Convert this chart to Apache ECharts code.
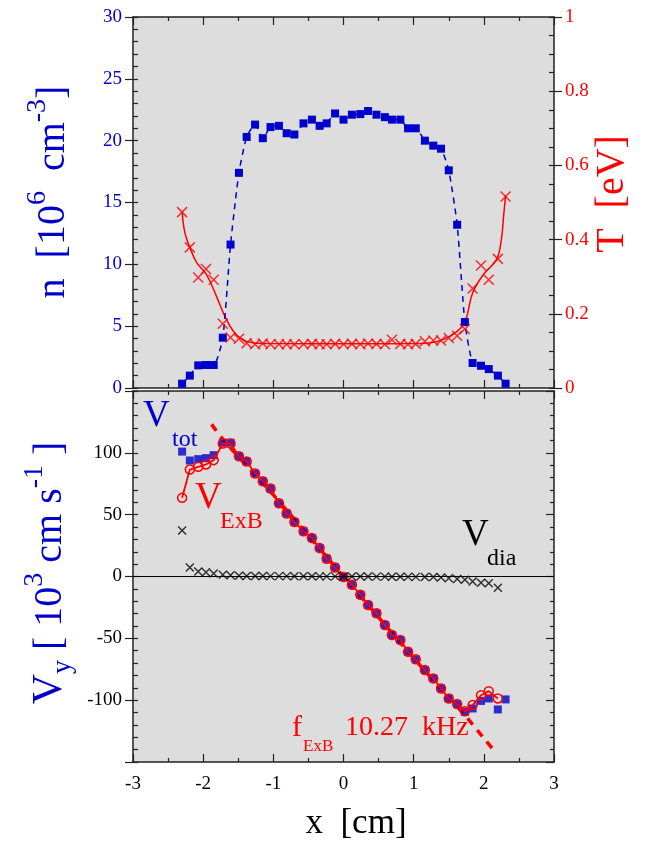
<!DOCTYPE html>
<html>
<head>
<meta charset="utf-8">
<script src="https://cdn.jsdelivr.net/npm/echarts@6/dist/echarts.min.js"></script>
<style>
html, body { margin: 0; padding: 0; background: #fff; }
#chart { width: 649px; height: 849px; }
</style>
</head>
<body>
<div id="chart"></div>
<script>
// probe positions [cm]
var xPos = [-2.30, -2.19, -2.07, -1.96, -1.85, -1.72, -1.61, -1.49, -1.38, -1.26, -1.15, -1.04, -0.92, -0.81,
    -0.70, -0.57, -0.45, -0.34, -0.24, -0.12, 0.00, 0.12, 0.24, 0.35, 0.47, 0.59, 0.69, 0.81, 0.92, 1.03,
    1.16, 1.28, 1.39, 1.50, 1.62, 1.73, 1.84, 1.96, 2.07, 2.20, 2.31];

// density n [10^6 cm^-3]
var nVals = [0.35, 1.0, 1.83, 1.86, 1.86, 4.07, 11.6, 17.4, 20.3, 21.3, 20.2, 21.1, 21.2, 20.6,
    20.5, 21.4, 21.7, 21.2, 21.4, 22.2, 21.7, 22.1, 22.15, 22.4, 22.1, 21.9, 21.7, 21.7, 21.0, 21.0,
    20.0, 19.6, 19.35, 17.6, 13.2, 5.33, 2.02, 1.8, 1.53, 1.0, 0.35];

// temperature T [eV]
var tVals = [0.474, 0.379, 0.298, 0.321, 0.292, 0.173, 0.136, 0.133, 0.121, 0.118, 0.12, 0.118, 0.118, 0.118,
    0.118, 0.118, 0.119, 0.118, 0.118, 0.119, 0.118, 0.119, 0.118, 0.12, 0.119, 0.118, 0.13, 0.119, 0.118, 0.119,
    0.126, 0.128, 0.128, 0.135, 0.141, 0.159, 0.268, 0.33, 0.292, 0.348, 0.516];

// T fit curve
var tFitX = [-2.30, -2.26, -2.19, -2.09, -1.95, -1.81, -1.69, -1.57, -1.45, -1.30, -1.10, 0.00, 1.10, 1.30,
    1.45, 1.60, 1.73, 1.84, 1.99, 2.18, 2.25, 2.28, 2.31];
var tFitY = [0.474, 0.418, 0.379, 0.337, 0.305, 0.247, 0.193, 0.153, 0.132, 0.122, 0.12, 0.119, 0.12, 0.124,
    0.133, 0.15, 0.178, 0.256, 0.305, 0.346, 0.40, 0.46, 0.52];

// V_tot [10^3 cm/s]
var vTot = [101, 93.8, 94.9, 95.7, 98.1, 108.2, 108.2, 97.3, 93, 83.3, 77, 71.1, 59.2, 50.9,
    44.1, 36.5, 31.1, 23, 14.4, 7.3, -0.5, -6.7, -14.8, -23, -29.7, -39.2, -47.3, -51.3, -60.8, -67,
    -75.7, -82.4, -90.5, -98.6, -103.2, -109.5, -106.7, -100.6, -98.6, -107.5, -99.4];

// V_ExB (last probe has none)
var vExB = [63.6, 86.5, 88.7, 90.6, 94.1, 107.5, 107.5, 97.3, 93, 83.3, 77, 71.1, 59.2, 50.9,
    44.1, 36.5, 31.1, 23, 14.4, 7.3, -0.5, -6.7, -14.8, -23, -29.7, -39.2, -47.3, -51.3, -60.8, -67,
    -75.7, -82.4, -90.5, -98.6, -103.2, -109, -104, -96, -92.7, -98.6];

// V_dia
var vDia = [37.1, 7.3, 4.1, 3.5, 2.5, 1.5, 1.0, 0.6, 0.5, 0.4, 0.4, 0.3, 0.3, 0.3,
    0.2, 0.2, 0.2, 0.1, 0.1, 0.1, 0, 0, 0, 0, -0.1, -0.1, -0.2, -0.2, -0.3, -0.3,
    -0.4, -0.5, -0.8, -1.5, -2.0, -2.7, -4.0, -5.0, -5.5, -9.0];

// f_ExB rigid rotation fit
var fitX = [-1.88, -1.72, -1.50, -1.00, -0.50, 0.00, 0.50, 1.00, 1.50, 1.73, 1.83, 1.99, 2.12];
var fitV = [123, 111, 97, 66, 33, 0, -33, -66, -98, -112, -119, -130, -139];

var BLUE = '#0000cc', RED = '#ff0000', INK = '#222';
var FONT = '"Liberation Serif", "Times New Roman", serif';
var crossPath = 'path://M0,0L10,10M10,0L0,10';

function zip(xs, ys) {
    var out = [];
    for (var i = 0; i < ys.length; i++) out.push([xs[i], ys[i]]);
    return out;
}

// text pieces with sub/superscripts, measured so they line up
var measure = document.createElement('canvas').getContext('2d');
function textWidth(t, size) {
    measure.font = size + 'px ' + FONT;
    return measure.measureText(t).width;
}
function pieces(list, px, py, vertical, color, centered) {
    var total = 0;
    list.forEach(function(p) { p.w = textWidth(p.t, p.s); total += p.w; });
    var ax = vertical ? 0 : 1, ay = vertical ? -1 : 0;
    var ux = vertical ? -1 : 0, uy = vertical ? 0 : -1;
    var off = centered ? -total / 2 : 0, out = [];
    list.forEach(function(p) {
        var d = p.d || 0;
        out.push({
            type: 'text', silent: true,
            x: px + ax * off + ux * d,
            y: py + ay * off + uy * d,
            rotation: vertical ? Math.PI / 2 : 0,
            style: {
                text: p.t, font: p.s + 'px ' + FONT, fill: color,
                textAlign: 'left', textVerticalAlign: 'middle', align: 'left', verticalAlign: 'middle'
            }
        });
        off += p.w;
    });
    return out;
}

function xAx(grid, pos, labels) {
    return {
        type: 'value', gridIndex: grid, position: pos, min: -3, max: 3, interval: 1,
        axisLine: { show: true, onZero: false, lineStyle: { color: INK, width: 1.5 } },
        axisTick: { show: true, inside: true, length: 8, lineStyle: { color: INK, width: 1.2 } },
        minorTick: { show: true, splitNumber: 2, length: 4, lineStyle: { color: INK, width: 1.2 } },
        splitLine: { show: false },
        axisLabel: { show: labels, margin: 13, color: '#000', fontFamily: FONT, fontSize: 19 }
    };
}
// major ticks outward with labels
function yMajor(grid, pos, min, max, step, color, fmt) {
    return {
        type: 'value', gridIndex: grid, position: pos, min: min, max: max, interval: step,
        axisLine: { show: true, onZero: false, lineStyle: { color: INK, width: 1.5 } },
        axisTick: { show: true, inside: false, length: 8, lineStyle: { color: INK, width: 1.2 } },
        splitLine: { show: false },
        axisLabel: { show: true, margin: 11, color: color, fontFamily: FONT, fontSize: 19, formatter: fmt }
    };
}
// small ticks inward, no labels
function yMinor(grid, pos, min, max, step) {
    return {
        type: 'value', gridIndex: grid, position: pos, min: min, max: max, interval: step,
        axisLine: { show: false, onZero: false },
        axisTick: { show: true, inside: true, length: 5, lineStyle: { color: INK, width: 1.2 } },
        splitLine: { show: false },
        axisLabel: { show: false }
    };
}

var graphics = []
    .concat(pieces([{ t: 'n  [10', s: 40 }, { t: '6', s: 28, d: 15 }, { t: '  cm', s: 40 },
        { t: '-3', s: 28, d: 15 }, { t: ']', s: 40 }], 53, 192, true, BLUE, true))
    .concat(pieces([{ t: 'T  [eV]', s: 40 }], 612, 194, true, RED, true))
    .concat(pieces([{ t: 'V', s: 42 }, { t: 'y', s: 28, d: -13 }, { t: ' [ 10', s: 40 }, { t: '3', s: 28, d: 15 },
        { t: ' cm s', s: 40 }, { t: '-1', s: 28, d: 15 }, { t: ' ]', s: 40 }], 50, 573, true, BLUE, true))
    .concat(pieces([{ t: 'x  [cm]', s: 35 }], 356, 824, false, '#000', true))
    .concat(pieces([{ t: 'V', s: 37 }], 143, 416, false, BLUE))
    .concat(pieces([{ t: 'tot', s: 24 }], 172, 440, false, BLUE))
    .concat(pieces([{ t: 'V', s: 37 }], 195, 498, false, RED))
    .concat(pieces([{ t: 'ExB', s: 24 }], 220, 522, false, RED))
    .concat(pieces([{ t: 'V', s: 37 }], 462, 535, false, '#000'))
    .concat(pieces([{ t: 'dia', s: 24 }], 487, 559, false, '#000'))
    .concat(pieces([{ t: 'f', s: 30 }], 292, 728, false, RED))
    .concat(pieces([{ t: 'ExB', s: 17 }], 303, 747, false, RED))
    .concat(pieces([{ t: '10.27  kHz', s: 28 }], 345, 728, false, RED));

var chart = echarts.init(document.getElementById('chart'));
chart.setOption({
    animation: false,
    backgroundColor: '#fff',
    grid: [
        { left: 133, top: 17, width: 421, height: 371, show: true, backgroundColor: '#dcdddc', borderWidth: 0 },
        { left: 133, top: 391, width: 421, height: 371, show: true, backgroundColor: '#dcdddc', borderWidth: 0 }
    ],
    xAxis: [xAx(0, 'bottom', false), xAx(0, 'top', false), xAx(1, 'bottom', true), xAx(1, 'top', false)],
    yAxis: [
        yMajor(0, 'left', 0, 30, 5, BLUE),
        yMinor(0, 'left', 0, 30, 1),
        yMajor(0, 'right', 0, 1, 0.2, RED),
        yMinor(0, 'right', 0, 1, 0.05),
        yMajor(1, 'left', -150, 150, 50, '#000', function(v) { return Math.abs(v) === 150 ? '' : v; }),
        yMinor(1, 'left', -150, 150, 10),
        {
            type: 'value', gridIndex: 1, position: 'right', min: -150, max: 150, interval: 50,
            axisLine: { show: true, onZero: false, lineStyle: { color: INK, width: 1.5 } },
            axisTick: { show: true, inside: true, length: 8, lineStyle: { color: INK, width: 1.2 } },
            minorTick: { show: true, splitNumber: 5, length: 4, lineStyle: { color: INK, width: 1.2 } },
            splitLine: { show: false },
            axisLabel: { show: false }
        }
    ],
    series: [
        {
            name: 'T fit', type: 'line', xAxisIndex: 0, yAxisIndex: 2, data: zip(tFitX, tFitY),
            symbol: 'none', smooth: 0.4, lineStyle: { color: RED, width: 1.5 }, z: 2
        },
        {
            name: 'n', type: 'line', xAxisIndex: 0, yAxisIndex: 0, data: zip(xPos, nVals),
            symbol: 'rect', symbolSize: 8, showAllSymbol: true, smooth: 0.2,
            itemStyle: { color: BLUE }, lineStyle: { color: BLUE, width: 1.5, type: [6, 5] }, z: 3
        },
        {
            name: 'T', type: 'scatter', xAxisIndex: 0, yAxisIndex: 2, data: zip(xPos, tVals),
            symbol: crossPath, symbolSize: 10,
            itemStyle: { color: 'rgba(0,0,0,0)', borderColor: RED, borderWidth: 1.5 }, z: 4
        },
        {
            name: 'f_ExB', type: 'line', xAxisIndex: 2, yAxisIndex: 4, data: zip(fitX, fitV),
            symbol: 'none', smooth: 0.3, lineStyle: { color: RED, width: 3.5, type: [8, 7] }, z: 2,
            markLine: {
                silent: true, symbol: 'none', label: { show: false },
                lineStyle: { color: '#000', width: 1.2, type: 'solid' },
                data: [{ yAxis: 0 }]
            }
        },
        {
            name: 'V_tot', type: 'scatter', xAxisIndex: 2, yAxisIndex: 4, data: zip(xPos, vTot),
            symbol: 'rect', symbolSize: 8, itemStyle: { color: BLUE }, z: 3
        },
        {
            name: 'V_ExB', type: 'line', xAxisIndex: 2, yAxisIndex: 4, data: zip(xPos, vExB),
            symbol: 'circle', symbolSize: 9, showAllSymbol: true,
            itemStyle: { color: 'rgba(0,0,0,0)', borderColor: RED, borderWidth: 1.5 },
            lineStyle: { color: RED, width: 1.8 }, z: 4
        },
        {
            name: 'V_dia', type: 'scatter', xAxisIndex: 2, yAxisIndex: 4, data: zip(xPos, vDia),
            symbol: crossPath, symbolSize: 8,
            itemStyle: { color: 'rgba(0,0,0,0)', borderColor: '#000', borderWidth: 1.4 }, z: 5
        }
    ],
    graphic: graphics
});

window.onresize = function() {
    chart.resize();
};
</script>
</body>
</html>
